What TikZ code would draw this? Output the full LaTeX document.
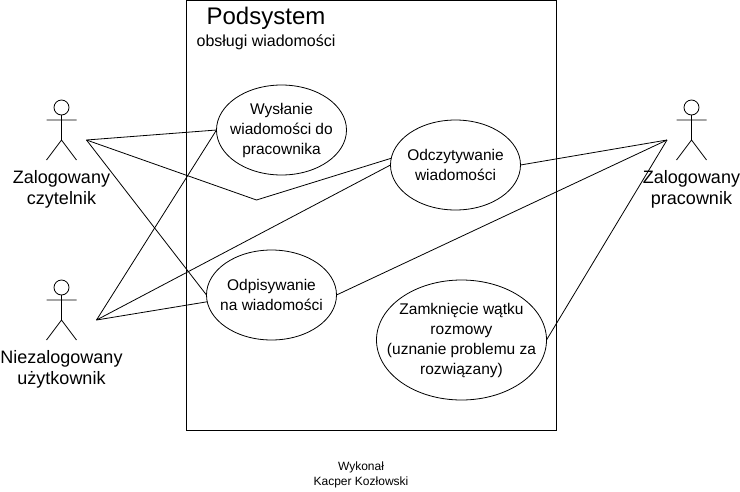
\documentclass[tikz,border=0pt]{standalone}
\usepackage{fontspec}
\setmainfont{Liberation Sans}
\usetikzlibrary{calc,shapes.geometric}
\tikzset{
  usecase/.style={draw,ellipse,inner sep=-30pt,outer sep=0pt,align=center,font=\fontsize{15.5}{20}\selectfont},
  actorname/.style={align=center,font=\fontsize{18}{21}\selectfont},
  assoc/.style={draw,line width=0.8pt},
  stickman/.pic={
    \draw[line width=0.8pt] (0,7.5) circle (7.5);
    \draw[line width=0.8pt] (0,15)--(0,40) (-15,20)--(15,20)
      (-15,60)--(0,40)--(15,60);
  }
}
\begin{document}
\begin{tikzpicture}[x=1pt,y=-1pt,line width=0.8pt]
  \useasboundingbox (0,0) rectangle (740,491);
  \node[draw,minimum width=370pt,minimum height=430pt,inner sep=0pt,outer sep=0pt,anchor=north west] (system) at (186.5,0.5) {};
  \node[font=\fontsize{24}{26}\selectfont] (title) at (266,18) {Podsystem};
  \node[font=\fontsize{16}{18}\selectfont] (subtitle) at (266,42) {obsługi wiadomości};
  \node[usecase,minimum width=130pt,minimum height=90pt] (send) at (281.5,130) {Wysłanie\\wiadomości do\\pracownika};
  \node[usecase,minimum width=130pt,minimum height=90pt] (read) at (455.5,165) {Odczytywanie\\wiadomości};
  \node[usecase,minimum width=130pt,minimum height=90pt] (reply) at (271.5,295) {Odpisywanie\\na wiadomości};
  \node[usecase,minimum width=170pt,minimum height=120pt] (close) at (461.5,340) {Zamknięcie wątku\\rozmowy\\(uznanie problemu za\\rozwiązany)};
  \coordinate (reader) at (86.5,140);
  \coordinate (guest) at (96.5,320);
  \coordinate (worker) at (667,140);
  \coordinate (bend) at (256.5,200);
  \pic at (61.5,100) {stickman};
  \pic at (61.5,280) {stickman};
  \pic at (691.5,100) {stickman};
  \node[actorname] (readername) at (61.5,189.5) {Zalogowany\\czytelnik};
  \node[actorname] (guestname) at (61.5,369.5) {Niezalogowany\\użytkownik};
  \node[actorname] (workername) at (691.5,189.5) {Zalogowany\\pracownik};
  \node[font=\fontsize{12}{15}\selectfont,align=center] (author) at (361,475) {Wykonał\\Kacper Kozłowski};
  \draw[assoc] (reader)--(send.west);
  \draw[assoc] (reader)--(reply.west);
  \draw[assoc] (reader)--(bend)--(read.174);
  \draw[assoc] (guest)--(send.west);
  \draw[assoc] (guest)--(read.west);
  \draw[assoc] (guest)--(reply.186);
  \draw[assoc] (worker)--(read.east);
  \draw[assoc] (worker)--(reply.east);
  \draw[assoc] (worker)--(close.east);
\end{tikzpicture}
\end{document}
